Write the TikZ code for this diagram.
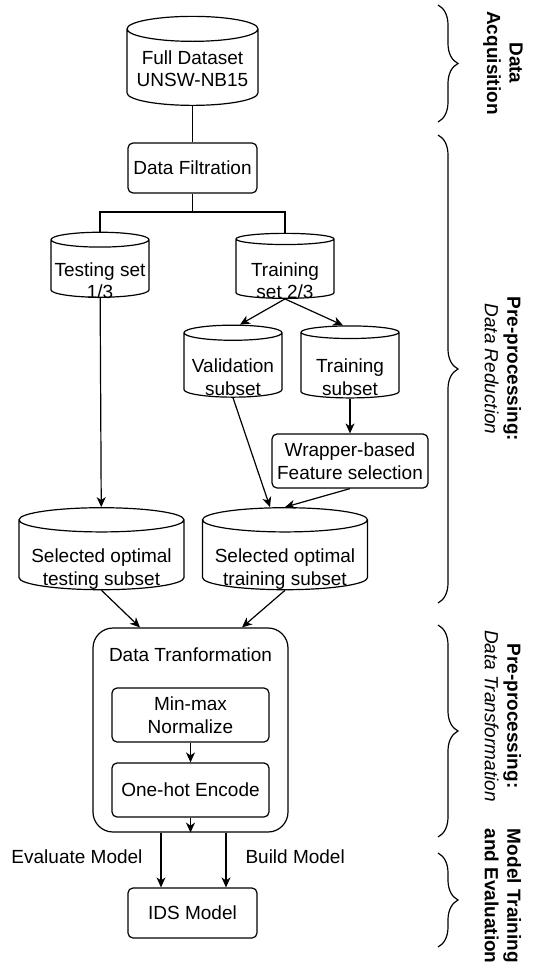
\documentclass[tikz,border=0pt]{standalone}
\usepackage{fontspec}
\setmainfont{Liberation Sans}
\usetikzlibrary{shapes.geometric, arrows.meta, positioning, decorations.pathreplacing, calc}
\newcommand{\sunk}[1]{\raisebox{-18pt}[0pt][0pt]{\begin{tabular}{@{}c@{}}#1\end{tabular}}}

\begin{document}
\begin{tikzpicture}[x=1pt, y=-1pt,
            font=\fontsize{19}{22.5}\selectfont,
            db/.style={cylinder, shape border rotate=90, draw=black, line width=1.2pt, inner sep=1pt, align=center},
            box/.style={rectangle, draw=black, line width=1.2pt, rounded corners=5pt, align=center},
            arrow/.style={-{Stealth[length=10pt, width=9pt, inset=3pt]}, line width=1.2pt},
            link/.style={line width=1.2pt},
            bracket/.style={decorate, decoration={brace, amplitude=20pt}, line width=1.2pt},
            side/.style={rotate=-90, align=center}
        ]
\useasboundingbox (0,0) rectangle (537,972);

% Data acquisition
            \node[db, aspect=0.22, minimum width=131, minimum height=89] (full) at (192.5,68.5) {Full Dataset\\UNSW-NB15};

% Filtration and split
            \node[box, minimum width=129, minimum height=50] (filt) at (192.5,168) {Data Filtration};
            \coordinate (split) at (192.5,212);
            \node[db, aspect=0.16, minimum width=98, minimum height=65] (test) at (100,269.5) {\sunk{Testing set\\1/3}};
            \node[db, aspect=0.16, minimum width=98, minimum height=65] (train) at (285,269.5) {\sunk{Training\\set 2/3}};

% Training set reduction
            \node[db, aspect=0.18, minimum width=98, minimum height=72] (valid) at (233,366) {\sunk{Validation\\subset}};
            \node[db, aspect=0.18, minimum width=98, minimum height=72] (trsub) at (350,366) {\sunk{Training\\subset}};
            \node[box, minimum width=156, minimum height=54] (wrap) at (350,461) {Wrapper-based\\Feature selection};

% Selected subsets
            \node[db, aspect=0.17, minimum width=165, minimum height=82] (seltest) at (101.5,556) {\sunk{Selected optimal\\testing subset}};
            \node[db, aspect=0.17, minimum width=165, minimum height=82] (seltrain) at (285,556) {\sunk{Selected optimal\\training subset}};

% Transformation
            \node[rectangle, draw=black, line width=1.2pt, rounded corners=20pt, minimum width=195, minimum height=204] (trans) at (190.5,730) {};
            \node (ttl) at (190.5,655) {Data Tranformation};
            \node[box, minimum width=157, minimum height=54] (minmax) at (190.5,715) {Min-max\\Normalize};
            \node[box, minimum width=157, minimum height=54] (onehot) at (190.5,790) {One-hot Encode};

% Model
            \node[box, minimum width=129, minimum height=50] (ids) at (192.5,913) {IDS Model};
            \coordinate (evin) at ([xshift=-31.5pt]ids.north);
            \coordinate (bdin) at ([xshift=33.5pt]ids.north);
            \node[anchor=east] (evlbl) at (146,857) {Evaluate Model};
            \node[anchor=west] (bdlbl) at (242,857) {Build Model};

% Connectors
            \draw[link] (full) -- (filt);
            \draw[link] (filt) -- (split);
            \draw[link] (split) -| (test.north);
            \draw[link] (split) -| (train.north);
            \draw[arrow] (train.south) -- ([xshift=7pt]valid.north);
            \draw[arrow] (train.south) -- ([xshift=-7pt]trsub.north);
            \draw[arrow] (trsub) -- (wrap);
            \draw[arrow] (test) -- (seltest);
            \draw[arrow] (valid.south) -- ([xshift=-15pt]seltrain.north);
            \draw[arrow] (wrap.south) -- (seltrain.north);
            \draw[arrow] (seltest.south) -- ([xshift=-50.5pt]trans.north);
            \draw[arrow] (seltrain.south) -- ([xshift=51.5pt]trans.north);
            \draw[arrow] (minmax) -- (onehot);
            \draw[arrow] (onehot) -- (trans.south);
            \draw[arrow] (evin |- trans.south) -- (evin);
            \draw[arrow] (bdin |- trans.south) -- (bdin);

% Stage brackets
            \draw[bracket] (438,5) -- (438,122);
            \draw[bracket] (438,135) -- (438,603);
            \draw[bracket] (438,625) -- (438,837);
            \draw[bracket] (438,853) -- (438,947);
            \node[side] (acq) at (503,63) {\textbf{Data}\\\textbf{Acquisition}};
            \node[side] (red) at (503,369) {\textbf{Pre-processing:}\\\textit{Data Reduction}};
            \node[side] (tfm) at (503,716) {\textbf{Pre-processing:}\\\textit{Data Transformation}};
            \node[side] (mte) at (503,896) {\textbf{Model Training}\\\textbf{and Evaluation}};

        \end{tikzpicture}
\end{document}
